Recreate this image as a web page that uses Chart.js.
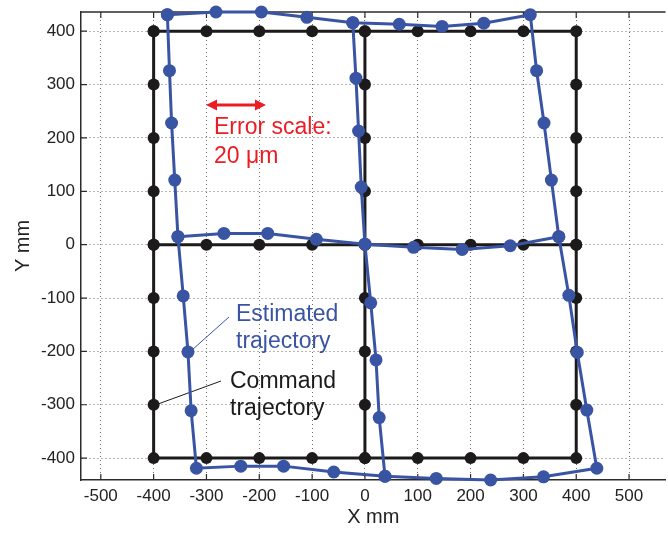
<!DOCTYPE html>
<html>
<head>
<meta charset="utf-8">
<script src="https://cdn.jsdelivr.net/npm/chart.js@4.4.1/dist/chart.umd.min.js"></script>
<style>
  html, body { margin: 0; padding: 0; background: #fff; overflow: hidden; }
</style>
</head>
<body>
<canvas id="chart" width="672" height="534"></canvas>
<script>
// command trajectory: outer square, then the two middle lines (null = break)
const cmdX = [-400, -300, -200, -100, 0, 100, 200, 300, 400,
  400, 400, 400, 400, 400, 400, 400, 400,
  300, 200, 100, 0, -100, -200, -300, -400,
  -400, -400, -400, -400, -400, -400, -400, -400,
  null,
  -400, -300, -200, -100, 0, 100, 200, 300, 400,
  null,
  0, 0, 0, 0, 0, 0, 0, 0, 0];
const cmdY = [400, 400, 400, 400, 400, 400, 400, 400, 400,
  300, 200, 100, 0, -100, -200, -300, -400,
  -400, -400, -400, -400, -400, -400, -400, -400,
  -300, -200, -100, 0, 100, 200, 300, 400,
  null,
  0, 0, 0, 0, 0, 0, 0, 0, 0,
  null,
  400, 300, 200, 100, 0, -100, -200, -300, -400];

// estimated trajectory (errors exaggerated), same layout
const estX = [-374, -282, -196, -110, -23, 65, 146, 225, 313,
  325, 339, 353, 367, 386, 402, 420, 439,
  338, 238, 135, 38, -59, -154, -235, -319,
  -329, -335, -344, -354, -360, -366, -370, -374,
  null,
  -354, -267, -184, -92, 0, 92, 184, 275, 367,
  null,
  -23, -17, -12, -7, 0, 11, 21, 27, 38];
const estY = [431, 436, 436, 426, 416, 413, 409, 415, 431,
  326, 228, 121, 15, -95, -202, -310, -419,
  -435, -441, -438, -434, -426, -415, -415, -419,
  -311, -201, -96, 15, 121, 228, 326, 431,
  null,
  15, 21, 21, 10, 1, -5, -9, -2, 15,
  null,
  416, 312, 213, 108, 1, -109, -216, -324, -434];

const xTicks = [-500, -400, -300, -200, -100, 0, 100, 200, 300, 400, 500];
const yTicks = [-400, -300, -200, -100, 0, 100, 200, 300, 400];

const blue = "#3a54a4";
const black = "#1c1a1b";
const red = "#ec1c24";
const axisColor = "#2b2b2b";
const fontFamily = '"Liberation Sans", Arial, Helvetica, sans-serif';

const toPoints = (xs, ys) => xs.map((v, i) => ({ x: v, y: ys[i] }));

const annotations = {
  id: "annotations",
  beforeDatasetsDraw(chart) {
    const { ctx, chartArea: a, scales: { x, y } } = chart;
    ctx.save();
    // top frame line
    ctx.strokeStyle = axisColor;
    ctx.lineWidth = 1.5;
    ctx.beginPath();
    ctx.moveTo(a.left, a.top);
    ctx.lineTo(a.right, a.top);
    ctx.stroke();

    // matlab style ticks pointing inwards
    ctx.lineWidth = 1.2;
    ctx.beginPath();
    xTicks.forEach(v => {
      const px = x.getPixelForValue(v);
      ctx.moveTo(px, a.bottom); ctx.lineTo(px, a.bottom - 6);
      ctx.moveTo(px, a.top); ctx.lineTo(px, a.top + 6);
    });
    yTicks.forEach(v => {
      const py = y.getPixelForValue(v);
      ctx.moveTo(a.left, py); ctx.lineTo(a.left + 6, py);
    });
    ctx.stroke();

    // error scale arrow
    ctx.strokeStyle = red;
    ctx.fillStyle = red;
    ctx.lineWidth = 3;
    ctx.beginPath();
    ctx.moveTo(214, 105); ctx.lineTo(258, 105);
    ctx.stroke();
    ctx.beginPath();
    ctx.moveTo(206, 105); ctx.lineTo(217, 99.5); ctx.lineTo(217, 110.5); ctx.closePath();
    ctx.moveTo(266, 105); ctx.lineTo(255, 99.5); ctx.lineTo(255, 110.5); ctx.closePath();
    ctx.fill();

    ctx.font = "23px " + fontFamily;
    ctx.textAlign = "left";
    ctx.textBaseline = "alphabetic";
    ctx.fillText("Error scale:", 214, 134);
    ctx.fillText("20 \u03bcm", 214, 163);

    // leader lines
    ctx.lineWidth = 1;
    ctx.strokeStyle = blue;
    ctx.beginPath();
    ctx.moveTo(229, 317); ctx.lineTo(192, 350);
    ctx.stroke();
    ctx.strokeStyle = black;
    ctx.beginPath();
    ctx.moveTo(221, 381); ctx.lineTo(158, 404);
    ctx.stroke();

    ctx.fillStyle = blue;
    ctx.fillText("Estimated", 236, 321);
    ctx.fillText("trajectory", 236, 348);
    ctx.fillStyle = black;
    ctx.fillText("Command", 230, 388);
    ctx.fillText("trajectory", 230, 415);
    ctx.restore();
  }
};

Chart.defaults.font.family = fontFamily;
Chart.defaults.color = "#222";

new Chart(document.getElementById("chart"), {
  type: "scatter",
  data: {
    datasets: [
      {
        label: "Estimated trajectory",
        data: toPoints(estX, estY),
        showLine: true,
        spanGaps: false,
        borderColor: blue,
        backgroundColor: blue,
        borderWidth: 3,
        pointRadius: 6.5,
        pointBorderWidth: 0,
        pointBackgroundColor: blue,
        clip: false,
        order: 0
      },
      {
        label: "Command trajectory",
        data: toPoints(cmdX, cmdY),
        showLine: true,
        spanGaps: false,
        borderColor: black,
        backgroundColor: black,
        borderWidth: 3,
        pointRadius: 6,
        pointBorderWidth: 0,
        pointBackgroundColor: black,
        clip: false,
        order: 1
      }
    ]
  },
  options: {
    responsive: false,
    animation: false,
    devicePixelRatio: 1,
    layout: { padding: { top: 12, right: 0, left: 0, bottom: 0 } },
    plugins: {
      legend: { display: false },
      tooltip: { enabled: false }
    },
    scales: {
      x: {
        type: "linear",
        position: "bottom",
        min: -537.5,
        max: 569,
        afterBuildTicks: s => { s.ticks = xTicks.map(v => ({ value: v })); },
        afterFit: s => { s.height = 54; s.paddingLeft = 0; s.paddingRight = 0; },
        ticks: {
          padding: 6,
          color: "#222",
          font: { size: 17 },
          callback: v => String(v)
        },
        grid: {
          color: "#6e6e6e",
          lineWidth: 1,
          drawTicks: false
        },
        border: { display: true, color: axisColor, width: 1.5, dash: [1, 3] },
        title: {
          display: true,
          text: "X mm",
          color: "#222",
          font: { size: 20 },
          padding: { top: 0, bottom: 5 }
        }
      },
      y: {
        type: "linear",
        position: "left",
        min: -441,
        max: 436,
        afterBuildTicks: s => { s.ticks = yTicks.map(v => ({ value: v })); },
        afterFit: s => { s.width = 81; s.paddingTop = 0; s.paddingBottom = 0; },
        ticks: {
          padding: 6,
          color: "#222",
          font: { size: 17 },
          callback: v => String(v)
        },
        grid: {
          color: "#6e6e6e",
          lineWidth: 1,
          drawTicks: false
        },
        border: { display: true, color: axisColor, width: 1.5, dash: [1, 3] },
        title: {
          display: true,
          text: "Y mm",
          color: "#222",
          font: { size: 20 },
          padding: { top: 11, bottom: 0 }
        }
      }
    }
  },
  plugins: [annotations]
});
</script>
</body>
</html>
